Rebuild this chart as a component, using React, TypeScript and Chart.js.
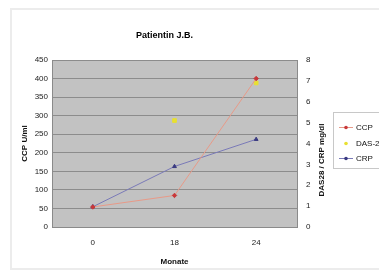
import React, { useEffect, useRef } from "react";
import { Chart, registerables } from "chart.js";

Chart.register(...registerables);

const months = ["0", "18", "24"];
const ccpValues = [54, 85, 400];
const das28Values = [null, 5.1, 6.9];
const crpValues = [0.97, 2.9, 4.2];
const seriesNames = ["CCP", "DAS-28", "CRP"];
const titleText = "Patientin J.B.";
const xTitle = "Monate";
const yLeftTitle = "CCP U/ml";
const yRightTitle = "DAS28 / CRP mg/dl";

const FONT = "Arial, 'Liberation Sans', sans-serif";

const colors = {
  ccpLine: "#e89a88",
  ccpPoint: "#c8383a",
  dasLine: "#e8e838",
  dasPoint: "#e8e030",
  crpLine: "#7a7ab8",
  crpPoint: "#3a3a80",
};

const extrasPlugin = {
  id: "extras",
  beforeDraw(chart: any) {
    const { ctx, chartArea } = chart;
    ctx.save();
    ctx.fillStyle = "#c2c2c2";
    ctx.fillRect(chartArea.left, chartArea.top, chartArea.right - chartArea.left, chartArea.bottom - chartArea.top);
    ctx.restore();
  },
  afterDraw(chart: any) {
    const { ctx } = chart;
    ctx.save();
    // right axis title (reading bottom to top)
    ctx.translate(322, 160);
    ctx.rotate(-Math.PI / 2);
    ctx.font = `bold 8px ${FONT}`;
    ctx.fillStyle = "#111";
    ctx.textAlign = "center";
    ctx.textBaseline = "middle";
    ctx.fillText(yRightTitle, 0, 0);
    ctx.restore();

    // legend
    ctx.save();
    ctx.fillStyle = "#ffffff";
    ctx.fillRect(333, 112, 50, 57);
    ctx.strokeStyle = "#c8c8c8";
    ctx.lineWidth = 1;
    ctx.strokeRect(333.5, 112.5, 50, 56);
    const rows = [127, 143, 158];
    const ds = chart.data.datasets;
    rows.forEach((y: number, i: number) => {
      const d = ds[i];
      if (d.showLine !== false) {
        ctx.strokeStyle = d.borderColor;
        ctx.lineWidth = 1;
        ctx.beginPath();
        ctx.moveTo(339, y + 0.5);
        ctx.lineTo(353, y + 0.5);
        ctx.stroke();
      }
      ctx.fillStyle = d.pointBackgroundColor;
      ctx.beginPath();
      ctx.arc(346, y + 0.5, 1.8, 0, Math.PI * 2);
      ctx.fill();
      ctx.fillStyle = "#111";
      ctx.font = `8px ${FONT}`;
      ctx.textAlign = "left";
      ctx.textBaseline = "middle";
      ctx.fillText(seriesNames[i], 356, y + 0.5);
    });
    ctx.restore();
  },
};

export default function App() {
  const ref = useRef<HTMLCanvasElement | null>(null);

  useEffect(() => {
    document.body.style.margin = "0";
    const canvas = ref.current;
    if (!canvas) return;
    const chart = new Chart(canvas, {
      type: "line",
      data: {
        labels: months,
        datasets: [
          {
            label: seriesNames[0],
            data: ccpValues,
            yAxisID: "y",
            borderColor: colors.ccpLine,
            backgroundColor: colors.ccpPoint,
            pointBackgroundColor: colors.ccpPoint,
            pointBorderColor: colors.ccpPoint,
            pointStyle: "rectRot",
            pointRadius: 2.2,
            borderWidth: 1,
            tension: 0,
          },
          {
            label: seriesNames[1],
            data: das28Values,
            yAxisID: "y1",
            showLine: false,
            borderColor: colors.dasLine,
            backgroundColor: colors.dasPoint,
            pointBackgroundColor: colors.dasPoint,
            pointBorderColor: colors.dasPoint,
            pointStyle: "rect",
            pointRadius: 2.6,
            borderWidth: 1,
          },
          {
            label: seriesNames[2],
            data: crpValues,
            yAxisID: "y1",
            borderColor: colors.crpLine,
            backgroundColor: colors.crpPoint,
            pointBackgroundColor: colors.crpPoint,
            pointBorderColor: colors.crpPoint,
            pointStyle: "triangle",
            pointRadius: 2.2,
            borderWidth: 1,
            tension: 0,
          },
        ],
      } as any,
      options: {
        responsive: false,
        animation: false,
        layout: { padding: { left: 0, right: 50, top: 0, bottom: 0 } },
        plugins: {
          legend: { display: false },
          tooltip: { enabled: false },
          title: {
            display: true,
            text: titleText,
            color: "#000",
            font: { family: FONT, size: 9, weight: "bold", lineHeight: 1.2 },
            padding: { top: 30, bottom: 19.2 },
          },
        },
        scales: {
          x: {
            type: "category",
            offset: true,
            grid: { display: false, drawTicks: false },
            border: { display: true, color: "#8a8a8a" },
            ticks: { color: "#222", font: { family: FONT, size: 8 }, padding: 11 },
            title: {
              display: true,
              text: xTitle,
              color: "#111",
              font: { family: FONT, size: 8, weight: "bold", lineHeight: 1.2 },
              padding: { top: 0, bottom: 10 },
            },
            afterFit(scale: any) {
              scale.height = 50;
            },
          },
          y: {
            position: "left",
            min: 0,
            max: 450,
            ticks: { stepSize: 50, color: "#222", font: { family: FONT, size: 8 }, padding: 4 },
            grid: { color: "#8c8c8c", drawTicks: false, lineWidth: 1 },
            border: { display: true, color: "#8a8a8a" },
            title: {
              display: true,
              text: yLeftTitle,
              color: "#111",
              font: { family: FONT, size: 8, weight: "bold", lineHeight: 1.2 },
              padding: { top: 20, bottom: 0 },
            },
            afterFit(scale: any) {
              scale.width = 52;
            },
          },
          y1: {
            position: "right",
            min: 0,
            max: 8,
            ticks: { stepSize: 1, color: "#222", font: { family: FONT, size: 8 }, padding: 9 },
            grid: { display: false, drawTicks: false },
            border: { display: true, color: "#8a8a8a" },
            afterFit(scale: any) {
              scale.width = 32;
            },
          },
        },
      } as any,
      plugins: [extrasPlugin],
    });
    return () => chart.destroy();
  }, []);

  return (
    <div style={{ position: "relative", width: 379, height: 277, overflow: "hidden", background: "#fff" }}>
      <div
        style={{
          position: "absolute",
          left: 10,
          top: 8,
          width: 400,
          height: 262,
          border: "2px solid #ececec",
          boxSizing: "border-box",
        }}
      />
      <canvas ref={ref} width={379} height={277} style={{ position: "absolute", left: 0, top: 0, display: "block" }} />
    </div>
  );
}
